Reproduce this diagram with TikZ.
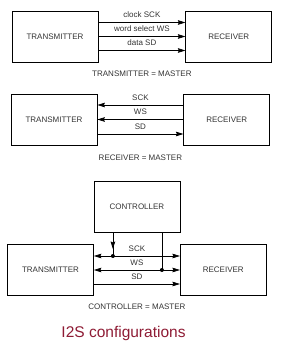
\documentclass[tikz,border=0pt]{standalone}
\usepackage{fontspec}
\setmainfont{Liberation Sans}
\usetikzlibrary{calc,arrows.meta,positioning}
\definecolor{schrift}{HTML}{333333}
\definecolor{titelrot}{HTML}{8E1B34}

\begin{document}
\begin{tikzpicture}[x=1pt, y=-1pt, node distance=87pt,
    every node/.style={font=\fontsize{8}{9.6}\selectfont, text=schrift},
    box/.style={draw, line width=0.8pt, minimum width=86pt, minimum height=51pt, inner sep=0pt},
    sig/.style={line width=0.7pt, -{Stealth[length=7.5pt,width=4.6pt,inset=1pt]}},
    sigb/.style={line width=0.7pt, {Stealth[length=7.5pt,width=4.6pt,inset=1pt]}-{Stealth[length=7.5pt,width=4.6pt,inset=1pt]}},
    lbl/.style={midway, above=3pt, inner sep=1.5pt},
    punkt/.style={circle, fill, inner sep=0pt, minimum size=4pt}]
    \useasboundingbox (0,0) rectangle (283,358);

    % transmitter = master
    \node[box] (tx1) at (55,36.5) {TRANSMITTER};
    \node[box, right=of tx1] (rx1) {RECEIVER};
    \draw[sig] ([yshift=14pt]tx1.east) -- ([yshift=14pt]rx1.west) node[lbl] (l11) {clock SCK};
    \draw[sig] (tx1.east) -- (rx1.west) node[lbl] (l12) {word select WS};
    \draw[sig] ([yshift=-14pt]tx1.east) -- ([yshift=-14pt]rx1.west) node[lbl] (l13) {data SD};
    \node[below=5pt] (cap1) at ($(tx1.south)!0.5!(rx1.south)$) {TRANSMITTER = MASTER};

    % receiver = master
    \node[box] (tx2) at (54,119.5) {TRANSMITTER};
    \node[box, right=86pt of tx2] (rx2) {RECEIVER};
    \draw[sig] ([yshift=14.5pt]rx2.west) -- ([yshift=14.5pt]tx2.east) node[lbl] (l21) {SCK};
    \draw[sig] (rx2.west) -- (tx2.east) node[lbl] (l22) {WS};
    \draw[sig] ([yshift=-14.5pt]tx2.east) -- ([yshift=-14.5pt]rx2.west) node[lbl] (l23) {SD};
    \node[below=6pt] (cap2) at ($(tx2.south)!0.5!(rx2.south)$) {RECEIVER = MASTER};

    % controller = master
    \node[box] (tx3) at (50.5,270) {TRANSMITTER};
    \node[box, right=86pt of tx3] (rx3) {RECEIVER};
    \coordinate (mid3) at ($(tx3.north)!0.5!(rx3.north)$);
    \node[box, above=11.5pt of mid3] (ctrl) {CONTROLLER};
    \coordinate (s1) at ([yshift=14pt]tx3.east);
    \coordinate (c1) at ([xshift=-24pt]ctrl.south);
    \coordinate (c2) at ([xshift=25pt]ctrl.south);
    \coordinate (d1) at (c1 |- s1);
    \coordinate (d2) at (c2 |- tx3.east);
    \draw[sigb] ([yshift=14pt]tx3.east) -- ([yshift=14pt]rx3.west) node[lbl] (l31) {SCK};
    \draw[sigb] (tx3.east) -- (rx3.west) node[lbl] (l32) {WS};
    \draw[sig] ([yshift=-14pt]tx3.east) -- ([yshift=-14pt]rx3.west) node[lbl] (l33) {SD};
    \draw[line width=0.7pt] (c1) -- (d1);
    \draw[sig] (c1) -- ([yshift=7pt]d1);
    \draw[line width=0.7pt] (c2) -- (d2);
    \node[punkt] (p1) at (d1) {};
    \node[punkt] (p2) at (d2) {};
    \node[below=4pt] (cap3) at ($(tx3.south)!0.5!(rx3.south)$) {CONTROLLER = MASTER};

    \node[font=\fontsize{15.5}{18}\selectfont, text=titelrot] (titel) at (123.5,333) {I2S configurations};
\end{tikzpicture}
\end{document}
